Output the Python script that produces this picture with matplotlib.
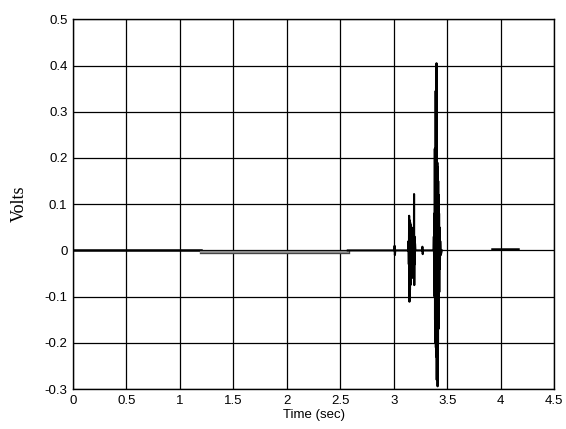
import matplotlib
matplotlib.use("Agg")
import matplotlib.pyplot as plt
import matplotlib.patheffects as pe

# Flat baseline before the offset section
base_t = [0.0, 1.20]
base_v = [0.0, 0.0]

# Slightly negative offset section (drawn grey)
offset_t = [1.20, 2.57]
offset_v = [-0.003, -0.003]

# Trace after the offset: small ticks at ~3.01 and ~3.27, bursts at ~3.17 and ~3.40
trace_t = [2.57, 3.005, 3.008, 3.011, 3.014, 3.134, 3.138, 3.141, 3.144, 3.147,
           3.150, 3.152, 3.154, 3.156, 3.158, 3.160, 3.162, 3.164, 3.166, 3.168,
           3.170, 3.172, 3.174, 3.176, 3.178, 3.180, 3.182, 3.184, 3.186, 3.188,
           3.190, 3.192, 3.194, 3.196, 3.199, 3.203, 3.265, 3.268, 3.271, 3.274,
           3.372, 3.375, 3.378, 3.380, 3.382, 3.384, 3.386, 3.388, 3.390, 3.392,
           3.394, 3.396, 3.398, 3.400, 3.402, 3.404, 3.406, 3.408, 3.410, 3.412,
           3.414, 3.416, 3.418, 3.420, 3.422, 3.424, 3.426, 3.428, 3.431, 3.435,
           3.440, 3.450]
trace_v = [0.0, 0.0, 0.010, -0.010, 0.0, 0.0, 0.020, -0.030, 0.075, -0.111,
           0.065, -0.085, 0.060, -0.075, 0.055, -0.065, 0.050, -0.060, 0.050, -0.055,
           0.045, -0.050, 0.045, -0.050, 0.040, -0.045, 0.040, -0.060, 0.035, -0.050,
           0.122, -0.075, 0.030, -0.030, 0.015, 0.0, 0.0, 0.008, -0.008, 0.0,
           0.0, 0.030, -0.040, 0.080, -0.100, 0.220, -0.150, 0.180, -0.200, 0.345,
           -0.210, 0.200, -0.230, 0.405, -0.280, 0.210, -0.220, 0.190, -0.294, 0.180,
           -0.200, 0.150, -0.170, 0.120, -0.130, 0.080, -0.090, 0.050, -0.040, 0.020,
           -0.010, 0.0]

# Short segment near t = 4
tail_t = [3.92, 4.16]
tail_v = [0.003, 0.003]

xticks = [0, 0.5, 1, 1.5, 2, 2.5, 3, 3.5, 4, 4.5]
xlabels = ["0", "0.5", "1", "1.5", "2", "2.5", "3", "3.5", "4", "4.5"]
yticks = [-0.3, -0.2, -0.1, 0, 0.1, 0.2, 0.3, 0.4, 0.5]
ylabels = ["-0.3", "-0.2", "-0.1", "0", "0.1", "0.2", "0.3", "0.4", "0.5"]

plt.rcParams["font.family"] = ["Liberation Sans", "DejaVu Sans"]

fig = plt.figure(figsize=(5.66, 4.29), dpi=100)
ax = fig.add_axes([0.129, 0.093, 0.850, 0.862])

ax.plot(base_t, base_v, color="black", linewidth=1.8, zorder=3)
ax.plot(offset_t, offset_v, color="#8c8c8c", linewidth=1.4, zorder=3,
        path_effects=[pe.Stroke(linewidth=2.4, foreground="#444444"), pe.Normal()])
ax.plot(trace_t, trace_v, color="black", linewidth=1.5, zorder=3)
ax.plot(tail_t, tail_v, color="black", linewidth=1.8, zorder=3)

ax.set_xlim(0, 4.5)
ax.set_ylim(-0.3, 0.5)
ax.set_xticks(xticks)
ax.set_xticklabels(xlabels)
ax.set_yticks(yticks)
ax.set_yticklabels(ylabels)
ax.tick_params(axis="both", length=0, labelsize=9.5, pad=4, colors="black")
ax.grid(True, color="black", linewidth=0.9)
ax.set_axisbelow(True)
for s in ax.spines.values():
    s.set_linewidth(1.0)

ax.set_xlabel("Time (sec)", fontsize=9.5, labelpad=2)
ax.set_ylabel("Volts", fontsize=13, family="Liberation Serif", labelpad=12)

fig.savefig("out.png", dpi=100)
